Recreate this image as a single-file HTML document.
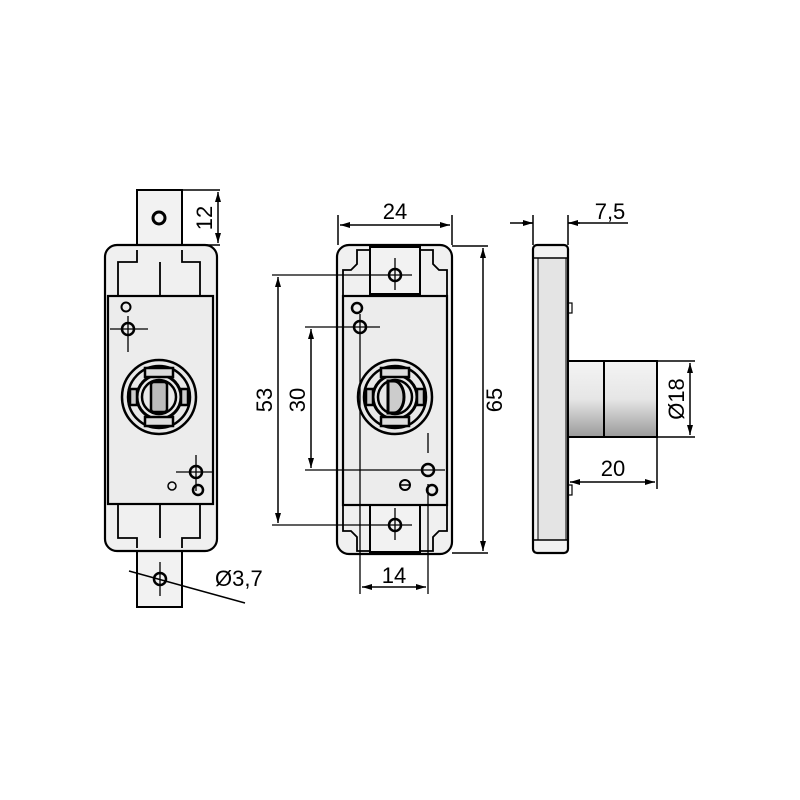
<!DOCTYPE html>
<html><head><style>body{margin:0;background:#fff}svg{display:block}</style></head><body>
<svg width="800" height="800" viewBox="0 0 800 800" xmlns="http://www.w3.org/2000/svg" font-family="Liberation Sans, sans-serif">
<defs>
<marker id="a" viewBox="0 0 10 6" refX="10" refY="3" markerWidth="11" markerHeight="6" orient="auto-start-reverse" markerUnits="userSpaceOnUse"><path d="M0,0L10,3L0,6z" fill="#000"/></marker>
<linearGradient id="cy" x1="0" y1="0" x2="0" y2="1"><stop offset="0" stop-color="#f4f4f4"/><stop offset=".5" stop-color="#e6e6e6"/><stop offset="1" stop-color="#9a9a9a"/></linearGradient>
<g id="lock">
<circle r="37" fill="#e8e8e8" stroke="#000" stroke-width="2.5"/>
<circle r="31" fill="none" stroke="#000" stroke-width="2.5"/>
<circle r="22" fill="none" stroke="#000" stroke-width="3"/>
<circle r="17" fill="none" stroke="#000" stroke-width="2.5"/>
<rect x="-14" y="-29" width="28" height="9" fill="#ddd" stroke="#000" stroke-width="2.5"/>
<rect x="-14" y="20" width="28" height="9" fill="#ddd" stroke="#000" stroke-width="2.5"/>
<rect x="-29" y="-8" width="7" height="16" fill="#ccc" stroke="#000" stroke-width="2.5"/>
<rect x="22" y="-8" width="7" height="16" fill="#ccc" stroke="#000" stroke-width="2.5"/>
</g>
</defs>
<g stroke="#000" fill="none" stroke-width="1.5">
<!-- LEFT VIEW -->
<rect x="137" y="190" width="45" height="60" fill="#f2f2f2" stroke-width="2"/>
<rect x="137" y="548" width="45" height="59" fill="#f2f2f2" stroke-width="2"/>
<rect x="105" y="245" width="112" height="306" rx="12" fill="#f0f0f0" stroke-width="2.2"/>
<path d="M137 250V262H118v34M182 250V262h18v34M160 262v34M137 548V538H118v-35M182 548v-10h18v-35M160 538v-35" stroke-width="1.8"/>
<rect x="108" y="296" width="105" height="208" fill="#ececec" stroke-width="2.2"/>
<circle cx="159" cy="218" r="6" stroke-width="3"/>
<use href="#lock" x="159" y="397"/>
<rect x="151" y="382" width="16" height="30" rx="3" fill="#bbb" stroke-width="2.5"/>
<circle cx="126" cy="307" r="4.5" stroke-width="2"/>
<circle cx="128" cy="329" r="6" stroke-width="2.5"/><path d="M110 329h38M128 316v36" stroke-width="1.3"/>
<circle cx="196" cy="472" r="6" stroke-width="2.5"/><path d="M176 472h38M196 455v36" stroke-width="1.3"/>
<circle cx="198" cy="490" r="5" stroke-width="2.5"/><circle cx="172" cy="486" r="4" stroke-width="1.5"/>
<circle cx="160" cy="579" r="6" stroke-width="2.5"/><path d="M160 562v34" stroke-width="1.3"/>
<path d="M129 571L245 603" stroke-width="1.5"/>
<path d="M182 190h38M182 245h38"/>
<line x1="218" y1="192" x2="218" y2="243" marker-start="url(#a)" marker-end="url(#a)"/>
<!-- MIDDLE VIEW -->
<rect x="337" y="245" width="115" height="309" rx="12" fill="#f0f0f0" stroke-width="2.2"/>
<path d="M343 296V270h8l6-6v-14h14M447 296V270h-8l-6-6v-14h-14M343 505v26h8l6 6v14h14M447 505v26h-8l-6 6v14h-14" stroke-width="1.8"/>
<rect x="370" y="247" width="50" height="47" fill="#f2f2f2" stroke-width="2"/>
<rect x="370" y="505" width="50" height="47" fill="#f2f2f2" stroke-width="2"/>
<rect x="343" y="296" width="104" height="209" fill="#ececec" stroke-width="2.2"/>
<use href="#lock" x="395" y="397"/>
<path d="M388 381h6a10 16 0 0 1 0 32h-6z" fill="#ccc" stroke-width="3"/>
<circle cx="357" cy="308" r="5" stroke-width="2.5"/>
<circle cx="360" cy="327" r="6" stroke-width="2.5"/>
<circle cx="395" cy="275" r="6" stroke-width="2.5"/>
<circle cx="395" cy="525" r="6" stroke-width="2.5"/>
<circle cx="428" cy="470" r="6" stroke-width="2.5"/>
<circle cx="432" cy="490" r="5" stroke-width="2.5"/>
<circle cx="405" cy="485" r="5" stroke-width="2"/><path d="M401 485h8"/>
<path d="M272 275h140M395 258v32M272 525h140M395 508v32M305 327h75M305 470h140M428 453v-20" stroke-width="1.3"/>
<path d="M360 314v280M428 484v110" stroke-width="1.3"/>
<line x1="278" y1="277" x2="278" y2="523" marker-start="url(#a)" marker-end="url(#a)"/>
<line x1="311" y1="329" x2="311" y2="468" marker-start="url(#a)" marker-end="url(#a)"/>
<path d="M338 245v-30M452 245v-30M452 246h36M452 553h36"/>
<line x1="340" y1="225" x2="450" y2="225" marker-start="url(#a)" marker-end="url(#a)"/>
<line x1="483" y1="248" x2="483" y2="551" marker-start="url(#a)" marker-end="url(#a)"/>
<line x1="362" y1="587" x2="426" y2="587" marker-start="url(#a)" marker-end="url(#a)"/>
<!-- RIGHT VIEW -->
<rect x="533" y="245" width="35" height="308" rx="4" fill="#f2f2f2" stroke-width="2.2"/>
<rect x="538" y="258" width="28" height="282" fill="#e4e4e4" stroke-width="1"/>
<path d="M534 258h33M534 540h33" stroke-width="1.5"/>
<rect x="568" y="303" width="4" height="10" stroke-width="1.2"/>
<rect x="568" y="485" width="4" height="10" stroke-width="1.2"/>
<rect x="568" y="361" width="89" height="76" fill="url(#cy)" stroke-width="2"/>
<path d="M604 361v76" stroke-width="2"/>
<path d="M533 245v-30M568 245v-30M657 361h38M657 437h38M657 437v52"/>
<path d="M510 223h23M568 223h60"/>
<line x1="522" y1="223" x2="533" y2="223" marker-end="url(#a)"/>
<line x1="580" y1="223" x2="568" y2="223" marker-end="url(#a)"/>
<line x1="690" y1="363" x2="690" y2="435" marker-start="url(#a)" marker-end="url(#a)"/>
<line x1="570" y1="482" x2="655" y2="482" marker-start="url(#a)" marker-end="url(#a)"/>
</g>
<g font-size="22" fill="#000">
<text transform="translate(212,218) rotate(-90)" text-anchor="middle">12</text>
<text x="215" y="586">Ø3,7</text>
<text x="395" y="219" text-anchor="middle">24</text>
<text transform="translate(272,400) rotate(-90)" text-anchor="middle">53</text>
<text transform="translate(305,400) rotate(-90)" text-anchor="middle">30</text>
<text transform="translate(502,400) rotate(-90)" text-anchor="middle">65</text>
<text x="394" y="583" text-anchor="middle">14</text>
<text x="610" y="219" text-anchor="middle">7,5</text>
<text transform="translate(684,399) rotate(-90)" text-anchor="middle">Ø18</text>
<text x="613" y="476" text-anchor="middle">20</text>
</g>
</svg>
</body></html>
